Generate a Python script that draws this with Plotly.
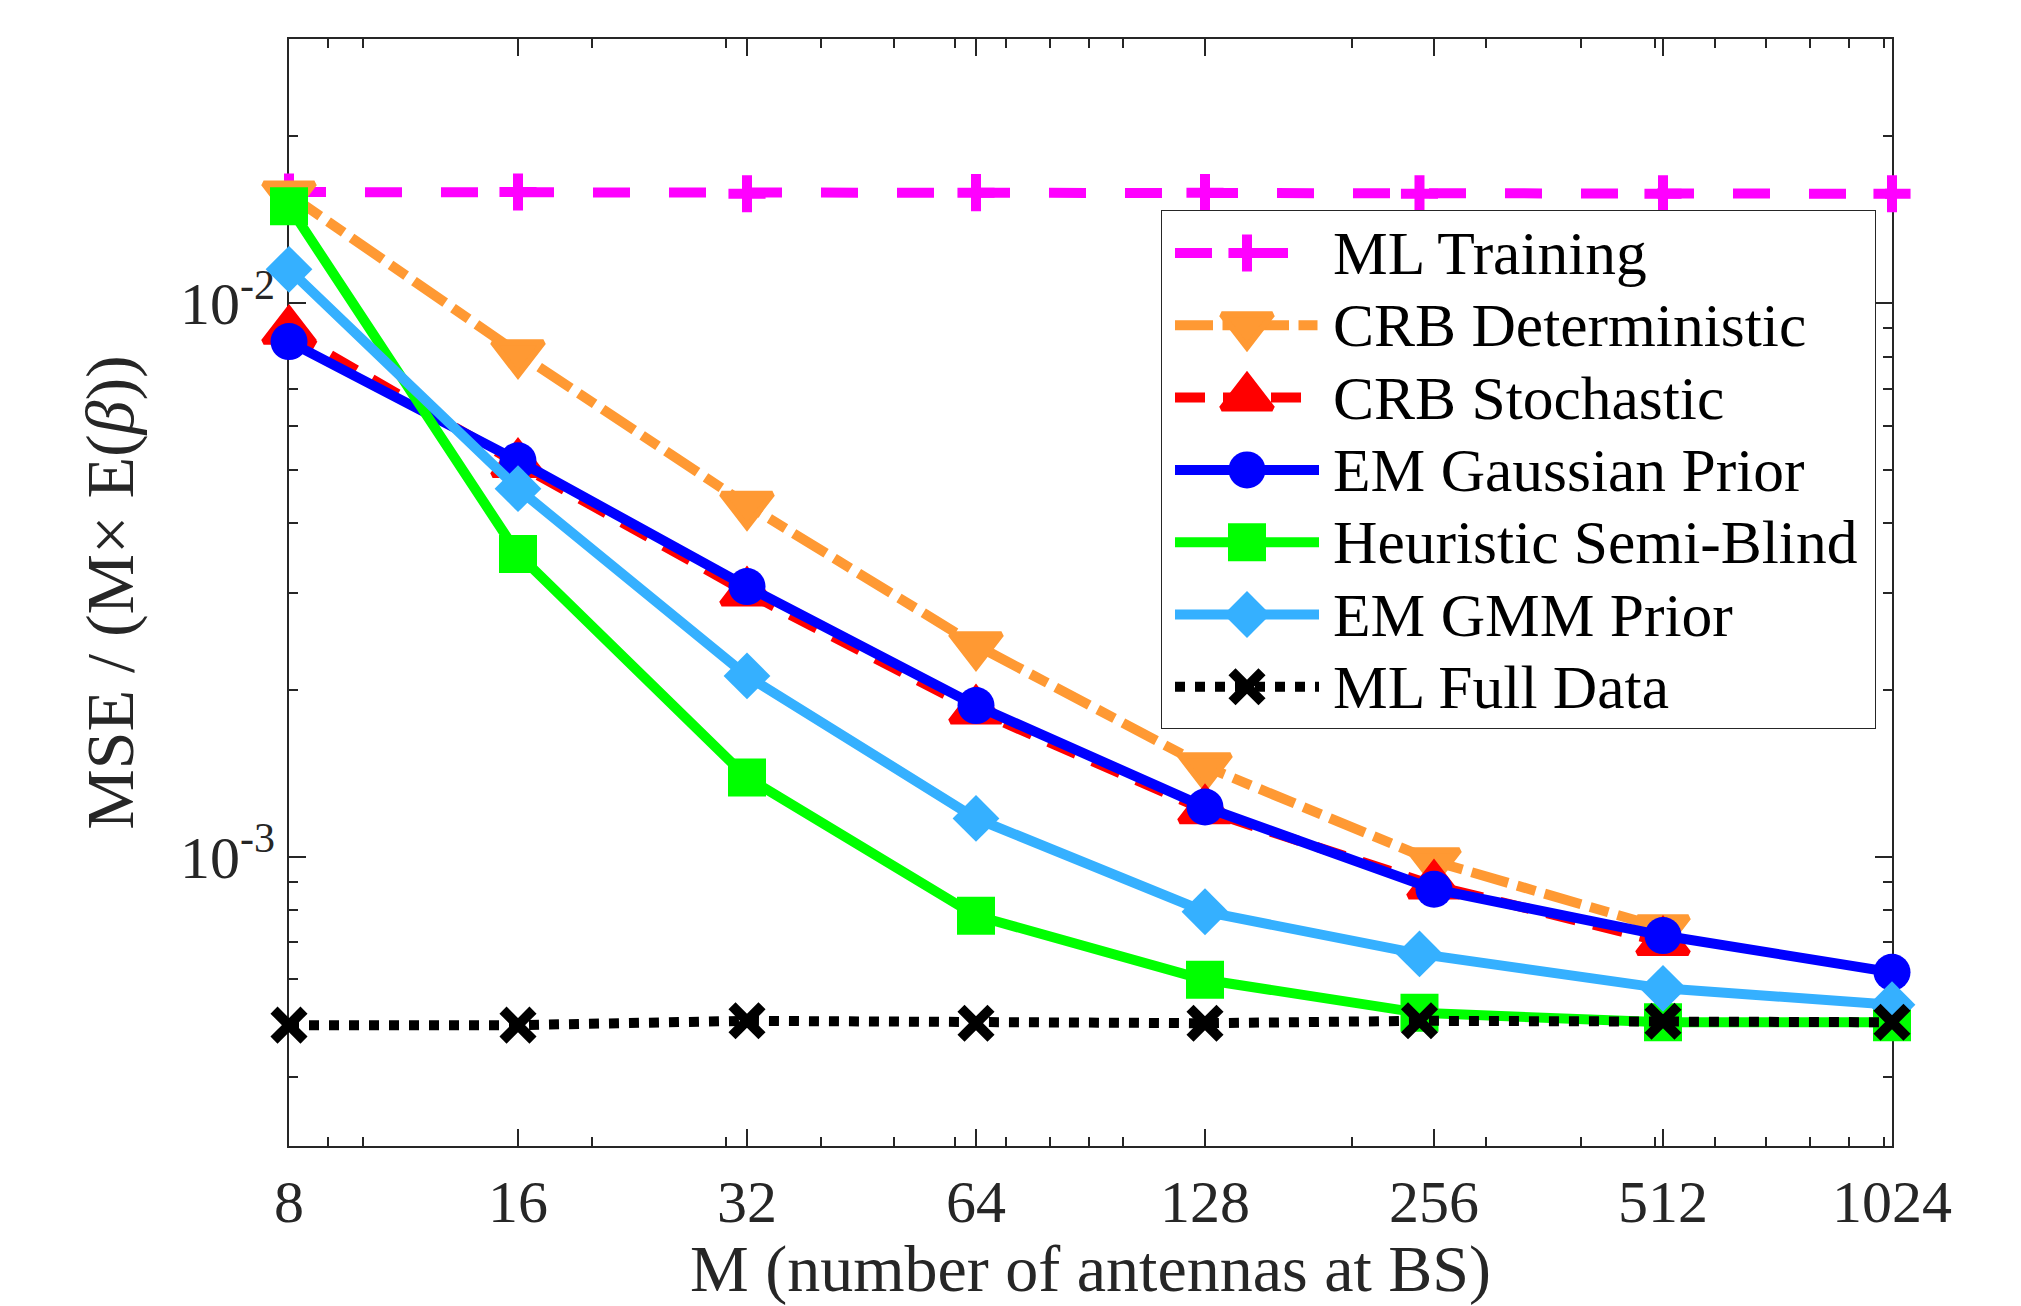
import plotly.graph_objects as go
import math

# ---------------- data ----------------
M_tick_vals = [8, 16, 32, 64, 128, 256, 512, 1024]
M_tick_text = ["8", "16", "32", "64", "128", "256", "512", "1024"]
M_minor = [9, 10, 20, 30, 40, 50, 60, 70, 80, 90, 100, 200, 300, 400, 500, 600, 700, 800, 900, 1000]

M_a = [8, 16, 32, 64, 128, 245, 512, 1024]      # ML Training, Heuristic, EM GMM, ML Full Data
M_crb = [8, 16, 32, 64, 128, 256, 512]          # CRB curves
M_emg = [8, 16, 32, 64, 128, 256, 512, 1024]    # EM Gaussian prior

ml_training = [0.01587, 0.01587, 0.01576, 0.01583, 0.01583, 0.01576, 0.01576, 0.01576]
crb_det = [0.01571, 0.00812, 0.00432, 0.00241, 0.001456, 0.000981, 0.000742]
crb_sto = [0.00891, 0.00512, 0.00300, 0.001837, 0.001213, 0.000887, 0.000701]
em_gauss = [0.00852, 0.00519, 0.003075, 0.001874, 0.001229, 0.000873, 0.000720, 0.000618]
heuristic = [0.01496, 0.00352, 0.001389, 0.000782, 0.000599, 0.000522, 0.000502, 0.000502]
em_gmm = [0.01151, 0.00462, 0.00212, 0.001172, 0.000795, 0.000667, 0.000578, 0.000540]
ml_full = [0.000496, 0.000496, 0.000505, 0.000500, 0.000500, 0.000505, 0.000504, 0.000502]

Y_tick_vals = [1e-3, 1e-2]
Y_tick_text = ["10<sup>-3</sup>", "10<sup>-2</sup>"]
Y_minor = [4e-4, 5e-4, 6e-4, 7e-4, 8e-4, 9e-4,
           2e-3, 3e-3, 4e-3, 5e-3, 6e-3, 7e-3, 8e-3, 9e-3, 2e-2, 3e-2]

names = ["ML Training", "CRB Deterministic", "CRB Stochastic", "EM Gaussian Prior",
         "Heuristic Semi-Blind", "EM GMM Prior", "ML Full Data"]
xs = [M_a, M_crb, M_crb, M_emg, M_a, M_a, M_a]
ys = [ml_training, crb_det, crb_sto, em_gauss, heuristic, em_gmm, ml_full]

# ---------------- styles ----------------
LW = 10
styles = [
    dict(color="#FF00FF", dash="37px,39px", symbol="cross-thin", size=26.5, mlw=10),
    dict(color="#FF9933", dash="38px,9.5px,19px,9.5px", symbol="triangle-down", size=44, mlw=6),
    dict(color="#FF0000", dash="30px,18px", symbol="triangle-up", size=44, mlw=6),
    dict(color="#0000FF", dash="solid", symbol="circle", size=37, mlw=0),
    dict(color="#00FF00", dash="solid", symbol="square", size=38, mlw=0),
    dict(color="#35B0FF", dash="solid", symbol="diamond", size=36, mlw=0),
    dict(color="#000000", dash="dot", symbol="x-thin", size=30, mlw=10),
]

FONT = "Liberation Serif"
AX_COLOR = "#262626"

# page geometry (the html body adds an 8 px offset)
OFF = 8
PAGE_W, PAGE_H = 2021, 1306
PX0, PX1, PY0, PY1 = 289, 1892, 39, 1146          # plot area in page px
W, H = PAGE_W - OFF, PAGE_H - OFF
L, T = PX0 - OFF, PY0 - OFF
R, B = W - (PX1 - OFF), H - (PY1 - OFF)
PW, PH = PX1 - PX0, PY1 - PY0

fig = go.Figure()
for nm, x, y, st in zip(names, xs, ys, styles):
    fig.add_trace(go.Scatter(
        x=x, y=y, name=nm, mode="lines+markers", showlegend=False, cliponaxis=False,
        line=dict(color=st["color"], width=LW, dash=st["dash"]),
        marker=dict(symbol=st["symbol"], size=st["size"], color=st["color"],
                    line=dict(width=st["mlw"], color=st["color"])),
    ))

# ---------------- custom legend (in its own pixel-unit subplot) ----------------
LEG_X0, LEG_X1, LEG_Y0, LEG_Y1 = 1161, 1876, 210, 729   # page px
LEG_W, LEG_H = LEG_X1 - LEG_X0, LEG_Y1 - LEG_Y0
ROW0, ROWH = 43, 72.3
SX0, SXM, SX1, TX = 14, 86, 158, 170

for i, (nm, st) in enumerate(zip(names, styles)):
    ry = ROW0 + i * ROWH
    fig.add_trace(go.Scatter(
        x=[SX0, SX1], y=[ry, ry], xaxis="x2", yaxis="y2", mode="lines",
        showlegend=False, hoverinfo="skip", cliponaxis=False,
        line=dict(color=st["color"], width=LW, dash=st["dash"])))
    fig.add_trace(go.Scatter(
        x=[SXM], y=[ry], xaxis="x2", yaxis="y2", mode="markers",
        showlegend=False, hoverinfo="skip", cliponaxis=False,
        marker=dict(symbol=st["symbol"], size=st["size"], color=st["color"],
                    line=dict(width=st["mlw"], color=st["color"]))))
    fig.add_annotation(x=TX, y=ry, xref="x2", yref="y2", text=nm, showarrow=False,
                       xanchor="left", yanchor="middle",
                       font=dict(family=FONT, size=61.5, color="#000000"))

fig.add_shape(type="rect", xref="x2", yref="y2", x0=0, x1=LEG_W, y0=0, y1=LEG_H,
              layer="below", fillcolor="white", line=dict(color=AX_COLOR, width=2))

axis_common = dict(
    showline=True, linecolor=AX_COLOR, linewidth=2, mirror="allticks",
    ticks="inside", ticklen=17, tickwidth=2, tickcolor=AX_COLOR,
    showgrid=False, zeroline=False, layer="below traces",
    tickfont=dict(family=FONT, size=60, color=AX_COLOR),
)

EPS = 1e-6
fig.update_layout(
    width=W, height=H,
    margin=dict(l=L, r=R, t=T, b=B, autoexpand=False),
    paper_bgcolor="white", plot_bgcolor="white",
    showlegend=False,
    xaxis=dict(
        type="log", range=[math.log10(8) - EPS, math.log10(1024) + EPS],
        tickmode="array", tickvals=M_tick_vals, ticktext=M_tick_text,
        minor=dict(tickmode="array", tickvals=M_minor, ticks="inside", ticklen=9,
                   tickwidth=2, tickcolor=AX_COLOR, showgrid=False),
        ticklabelstandoff=2,
        title=dict(text="M (number of antennas at BS)", standoff=6,
                   font=dict(family=FONT, size=66, color=AX_COLOR)),
        **axis_common),
    yaxis=dict(
        type="log", range=[math.log10(3e-4), math.log10(3e-2)],
        tickmode="array", tickvals=Y_tick_vals, ticktext=Y_tick_text,
        minor=dict(tickmode="array", tickvals=Y_minor, ticks="inside", ticklen=9,
                   tickwidth=2, tickcolor=AX_COLOR, showgrid=False),
        ticklabelstandoff=0,
        title=dict(text="MSE / (M× E(<i>β</i>))", standoff=24,
                   font=dict(family=FONT, size=68, color=AX_COLOR)),
        **axis_common),
    xaxis2=dict(domain=[(LEG_X0 - PX0) / PW, (LEG_X1 - PX0) / PW], range=[0, LEG_W],
                visible=False, anchor="y2", fixedrange=True),
    yaxis2=dict(domain=[(PY1 - LEG_Y1) / PH, (PY1 - LEG_Y0) / PH], range=[LEG_H, 0],
                visible=False, anchor="x2", fixedrange=True),
)

fig.write_html("out.html")
